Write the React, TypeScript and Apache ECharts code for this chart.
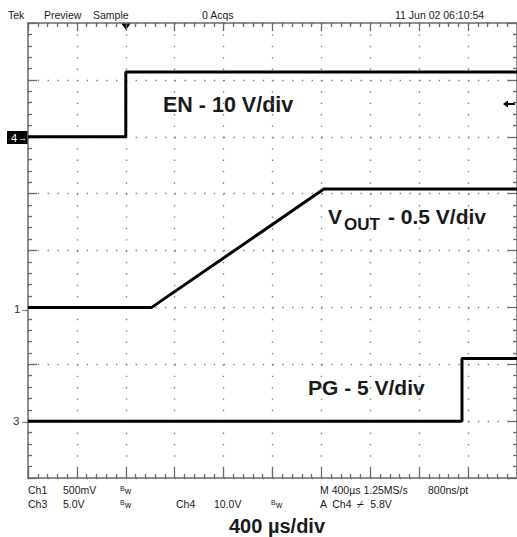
import React, { useEffect, useRef } from "react";
import * as echarts from "echarts";

// Time base: 400 µs/div, trigger (t = 0) two divisions from the left edge
const timeMin = -800;
const timeMax = 3200;
const timePerDiv = 400;

// Channel traces (time in µs, value in volts)
const enTimes = [-800, 0, 0, 3200];
const enVolts = [0, 0, 11.4, 11.4];
const voutTimes = [-800, 212, 1620, 3200];
const voutVolts = [0, 0, 1.04, 1.04];
const pgTimes = [-800, 2750, 2750, 3200];
const pgVolts = [0, 0, 5.5, 5.5];

// Scale (V/div) and ground level (division from bottom) per channel
const enScale = 10;
const enGround = 6;
const voutScale = 0.5;
const voutGround = 3;
const pgScale = 5;
const pgGround = 1;

const divMin = 0;
const divMax = 8;

const toDivs = (times: number[], volts: number[], scale: number, ground: number) =>
  times.map((t, i) => [t, ground + volts[i] / scale]);

const SMALL = "Liberation Sans, Arial, Helvetica, sans-serif";
const BIG = "Liberation Sans, Arial, Helvetica, sans-serif";
const GRAY = "#6a6a6a";

export default function App() {
  const ref = useRef<HTMLDivElement>(null);
  useEffect(() => {
    if (!ref.current) return;
    const chart = echarts.init(ref.current, undefined, { renderer: "svg" });

    const frameAxisX = (pos: "top" | "bottom", split: boolean) => ({
      type: "value",
      position: pos,
      min: timeMin,
      max: timeMax,
      interval: timePerDiv,
      axisLine: { show: true, onZero: false, lineStyle: { color: GRAY, width: 1.5 } },
      axisTick: { show: true, inside: true, length: pos === "top" ? 8 : 10, lineStyle: { color: GRAY, width: 1.3 } },
      minorTick: { show: true, splitNumber: 5, length: 4, lineStyle: { color: GRAY, width: 1.3 } },
      axisLabel: { show: false },
      splitLine: split
        ? { show: true, lineStyle: { color: "#808080", width: 1.4, type: [1.4, 9.975] } }
        : { show: false },
    });
    const frameAxisY = (pos: "left" | "right", split: boolean) => ({
      type: "value",
      position: pos,
      min: divMin,
      max: divMax,
      interval: 1,
      axisLine: { show: true, onZero: false, lineStyle: { color: GRAY, width: 1.5 } },
      axisTick: { show: true, inside: true, length: 9, lineStyle: { color: GRAY, width: 1.3 } },
      minorTick: { show: true, splitNumber: 5, length: 4, lineStyle: { color: GRAY, width: 1.3 } },
      axisLabel: { show: false },
      splitLine: split
        ? { show: true, lineStyle: { color: "#808080", width: 1.4, type: [1.4, 8.38] } }
        : { show: false },
    });

    const trace = (data: number[][]) => ({
      type: "line",
      data,
      xAxisIndex: 0,
      yAxisIndex: 0,
      showSymbol: false,
      symbol: "none",
      lineStyle: { color: "#000", width: 3 },
      silent: true,
    });

    const t = (text: string, x: number, y: number, font: string, size: number, extra: any = {}) => ({
      type: "text",
      x,
      y,
      silent: true,
      style: {
        text,
        fontFamily: font,
        fontSize: size,
        fill: "#1a1a1a",
        align: "left",
        verticalAlign: "middle",
        ...extra,
      },
    });

    chart.setOption({
      animation: false,
      backgroundColor: "#fff",
      grid: { left: 28, top: 23, width: 489, height: 455, containLabel: false },
      xAxis: [frameAxisX("bottom", true), frameAxisX("top", false)],
      yAxis: [frameAxisY("left", true), frameAxisY("right", false)],
      series: [
        trace(toDivs(enTimes, enVolts, enScale, enGround)),
        trace(toDivs(voutTimes, voutVolts, voutScale, voutGround)),
        trace(toDivs(pgTimes, pgVolts, pgScale, pgGround)),
      ],
      graphic: [
        // header
        t("Tek", 8, 15, SMALL, 10.5),
        t("Preview", 44, 15, SMALL, 10.5),
        t("Sample", 93, 15, SMALL, 10.5),
        t("0 Acqs", 202, 15, SMALL, 10.5),
        t("11 Jun 02 06:10:54", 395, 15, SMALL, 10.5),
        // trigger position marker
        { type: "polygon", silent: true, shape: { points: [[121, 23], [131, 23], [126, 30]] }, style: { fill: "#000" } },
        // trigger level marker
        { type: "line", silent: true, shape: { x1: 507, y1: 104, x2: 515, y2: 104 }, style: { stroke: "#000", lineWidth: 2 } },
        { type: "polygon", silent: true, shape: { points: [[503, 104], [508, 100.5], [508, 107.5]] }, style: { fill: "#000" } },
        // channel ground markers
        { type: "rect", silent: true, shape: { x: 7, y: 131, width: 21, height: 13 }, style: { fill: "#000" } },
        t("4", 11, 138, SMALL, 11, { fill: "#fff" }),
        t("→", 18, 138, SMALL, 9, { fill: "#fff" }),
        t("1", 14, 309, SMALL, 11.5, { fill: "#333" }),
        t("→", 20, 309, SMALL, 9, { fill: "#333" }),
        t("3", 13, 421, SMALL, 11.5, { fill: "#333" }),
        t("→", 20, 421, SMALL, 9, { fill: "#333" }),
        // channel labels
        t("EN - 10 V/div", 163, 105, BIG, 21.5, { fontWeight: "bold" }),
        t("V", 328, 216, BIG, 21, { fontWeight: "bold" }),
        t("OUT", 344, 224, BIG, 17, { fontWeight: "bold" }),
        t("- 0.5 V/div", 388, 216, BIG, 21, { fontWeight: "bold" }),
        t("PG - 5 V/div", 308, 387, BIG, 21, { fontWeight: "bold" }),
        // footer
        t("Ch1", 28, 490, SMALL, 10.5),
        t("500mV", 63, 490, SMALL, 10.5),
        t("B", 120, 488, SMALL, 7),
        t("w", 125, 491, SMALL, 8.5),
        t("M 400µs 1.25MS/s", 320, 490, SMALL, 10.5),
        t("800ns/pt", 428, 490, SMALL, 10.5),
        t("Ch3", 28, 504, SMALL, 10.5),
        t("5.0V", 63, 504, SMALL, 10.5),
        t("B", 120, 502, SMALL, 7),
        t("w", 125, 505, SMALL, 8.5),
        t("Ch4", 176, 504, SMALL, 10.5),
        t("10.0V", 214, 504, SMALL, 10.5),
        t("B", 271, 502, SMALL, 7),
        t("w", 276, 505, SMALL, 8.5),
        t("A  Ch4  ⌿  5.8V", 320, 504, SMALL, 10.5),
        t("400 µs/div", 229, 526, BIG, 20, { fontWeight: "bold" }),
      ],
    });
    return () => chart.dispose();
  }, []);
  return (
    <div
      ref={ref}
      style={{ position: "fixed", left: 0, top: 0, width: 517, height: 537, background: "#fff" }}
    />
  );
}
